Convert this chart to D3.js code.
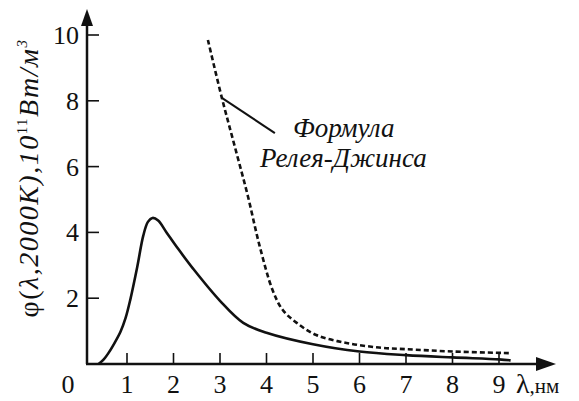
<!DOCTYPE html>
<html>
<head>
<meta charset="utf-8">
<script src="https://cdn.jsdelivr.net/npm/d3@7"></script>
<style>
  body { margin: 0; background: #fff; }
  text { font-family: "Liberation Serif", serif; }
</style>
</head>
<body>
<svg id="chart" width="579" height="401"></svg>
<script>
// Datos (λ en nm, φ en 10^11 Вт/м³)
const planckX = [0.39, 0.5, 0.6, 0.7, 0.86, 0.97, 1.07, 1.22, 1.35, 1.45, 1.55, 1.67, 1.85, 2.1, 2.42, 3.0, 3.5, 4.0, 5.0, 6.0, 7.0, 8.0, 9.0, 9.25];
const planckY = [0, 0.14, 0.33, 0.56, 0.98, 1.4, 1.95, 2.95, 3.9, 4.32, 4.44, 4.36, 4.0, 3.5, 2.9, 1.92, 1.25, 0.95, 0.6, 0.38, 0.27, 0.2, 0.14, 0.11];

const rjX = [2.74, 3.04, 3.32, 3.6, 3.85, 4.13, 4.35, 4.65, 5.07, 5.72, 6.42, 7.0, 8.0, 9.25];
const rjY = [9.85, 8.09, 6.6, 5.1, 3.6, 2.25, 1.64, 1.25, 0.88, 0.64, 0.5, 0.45, 0.38, 0.33];

const xTicks = [1, 2, 3, 4, 5, 6, 7, 8, 9];
const yTicks = [2, 4, 6, 8, 10];

const labelLines = ["Формула", "Релея-Джинса"];
const leader = [[3.04, 8.09], [4.18, 7.02]];

const FONT = "Liberation Serif";

const svg = d3.select("#chart");

// Escalas
const x = d3.scaleLinear().domain([0, 10]).range([80.5, 545.5]);
const y = d3.scaleLinear().domain([0, 10]).range([364, 35]);

const axisX0 = 87;       // posición del eje vertical
const axisY0 = y(0);     // posición del eje horizontal

// Ejes con flechas
svg.append("line")
  .attr("x1", axisX0).attr("y1", axisY0)
  .attr("x2", axisX0).attr("y2", 22)
  .attr("stroke", "#111").attr("stroke-width", 2.5);
svg.append("path")
  .attr("d", `M${axisX0},9 L${axisX0 - 6},26 L${axisX0 + 6},26 Z`)
  .attr("fill", "#111");

svg.append("line")
  .attr("x1", axisX0 - 1).attr("y1", axisY0)
  .attr("x2", 540).attr("y2", axisY0)
  .attr("stroke", "#111").attr("stroke-width", 2.5);
svg.append("path")
  .attr("d", `M556,${axisY0} L536,${axisY0 - 7} L536,${axisY0 + 7} Z`)
  .attr("fill", "#111");

// Marcas del eje X (hacia arriba)
svg.selectAll(".xtick")
  .data(xTicks)
  .enter()
  .append("line")
  .attr("class", "xtick")
  .attr("x1", d => x(d)).attr("x2", d => x(d))
  .attr("y1", axisY0).attr("y2", axisY0 - 11)
  .attr("stroke", "#111").attr("stroke-width", 1.6);

svg.selectAll(".xlabel")
  .data(xTicks)
  .enter()
  .append("text")
  .attr("class", "xlabel")
  .attr("x", d => x(d))
  .attr("y", 393)
  .attr("text-anchor", "middle")
  .attr("fill", "#111")
  .attr("font-family", FONT)
  .attr("font-size", 26)
  .text(d => d);

// Marcas del eje Y (hacia la derecha)
svg.selectAll(".ytick")
  .data(yTicks)
  .enter()
  .append("line")
  .attr("class", "ytick")
  .attr("x1", axisX0).attr("x2", axisX0 + 12)
  .attr("y1", d => y(d)).attr("y2", d => y(d))
  .attr("stroke", "#111").attr("stroke-width", 1.6);

svg.selectAll(".ylabel")
  .data(yTicks)
  .enter()
  .append("text")
  .attr("class", "ylabel")
  .attr("x", 79)
  .attr("y", d => y(d) + 9)
  .attr("text-anchor", "end")
  .attr("fill", "#111")
  .attr("font-family", FONT)
  .attr("font-size", 26)
  .text(d => d);

svg.append("text")
  .attr("x", 68).attr("y", 393)
  .attr("text-anchor", "middle")
  .attr("fill", "#111")
  .attr("font-family", FONT)
  .attr("font-size", 26)
  .text("0");

// Etiqueta del eje X
const xl = svg.append("text")
  .attr("x", 516).attr("y", 393)
  .attr("fill", "#111")
  .attr("font-family", FONT)
  .attr("font-size", 28);
xl.append("tspan").text("λ");
xl.append("tspan").attr("font-size", 21).text(",нм");

// Etiqueta del eje Y (rotada)
const yl = svg.append("text")
  .attr("transform", "translate(38,178) rotate(-90)")
  .attr("text-anchor", "middle")
  .attr("fill", "#111")
  .attr("font-family", FONT)
  .attr("font-size", 28)
  .attr("letter-spacing", 1.5);
yl.append("tspan").text("φ(");
yl.append("tspan").attr("font-style", "italic").text("λ,2000K),10");
yl.append("tspan").attr("dy", -11).attr("font-size", 15).text("11");
yl.append("tspan").attr("dy", 11).attr("font-style", "italic").text("Вт/м");
yl.append("tspan").attr("dy", -11).attr("font-size", 15).attr("font-style", "italic").text("3");

// Curvas
const line = d3.line()
  .x(d => x(d[0]))
  .y(d => y(d[1]))
  .curve(d3.curveCatmullRom.alpha(0.5));

svg.append("path")
  .datum(d3.zip(planckX, planckY))
  .attr("d", line)
  .attr("fill", "none")
  .attr("stroke", "#111")
  .attr("stroke-width", 2.6);

svg.append("path")
  .datum(d3.zip(rjX, rjY))
  .attr("d", line)
  .attr("fill", "none")
  .attr("stroke", "#111")
  .attr("stroke-width", 2.6)
  .attr("stroke-dasharray", "5,3");

// Anotación
svg.append("line")
  .attr("x1", x(leader[0][0])).attr("y1", y(leader[0][1]))
  .attr("x2", x(leader[1][0])).attr("y2", y(leader[1][1]))
  .attr("stroke", "#111").attr("stroke-width", 2);

svg.selectAll(".note")
  .data(labelLines)
  .enter()
  .append("text")
  .attr("class", "note")
  .attr("x", (d, i) => i === 0 ? 293 : 260)
  .attr("y", (d, i) => 137 + i * 30)
  .attr("fill", "#111")
  .attr("font-family", FONT)
  .attr("font-size", 27)
  .attr("font-style", "italic")
  .text(d => d);
</script>
</body>
</html>
